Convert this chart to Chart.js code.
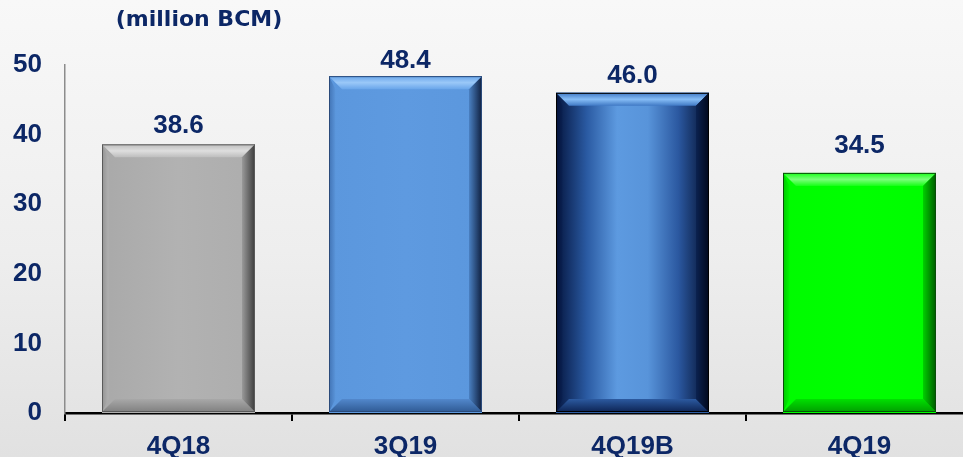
<!DOCTYPE html>
<html>
<head>
<meta charset="utf-8">
<script src="https://cdn.jsdelivr.net/npm/chart.js@4/dist/chart.umd.min.js"></script>
<style>
  html, body { margin: 0; padding: 0; width: 963px; height: 457px; overflow: hidden; }
  body { background: linear-gradient(180deg, #f8f8f8 0%, #eeeeee 55%, #e1e1e1 100%); }
  #wrap { position: absolute; left: 0; top: 0; width: 980px; height: 457px; }
</style>
</head>
<body>
<div id="wrap"><canvas id="c" width="980" height="457"></canvas></div>
<script>
// Quarterly volume, million BCM
const categories = ['4Q18', '3Q19', '4Q19B', '4Q19'];
const volumes = [38.6, 48.4, 46.0, 34.5];
const yTicks = [0, 10, 20, 30, 40, 50];

const NAVY = '#0c2766';
const LABEL_FONT = { family: '"Liberation Sans", Arial, sans-serif', size: 26, weight: 'bold' };

// Bevelled bar looks: body fill, edge shades and outline
const barLooks = [
  { base: '#b0b0b0', body: ['#a9a9a9', '#b2b2b2', '#adadad'], top: ['#dedede', '#bdbdbd'], right: ['#9a9a9a', '#3c3c3c'], bottom: ['#a8a8a8', '#808080'], left: ['#b0b0b0', '#939393'], line: '#5a5a5a' },
  { base: '#5d99df', body: ['#5b97dd', '#5e9ae0', '#5b97dd'], top: ['#9ac8f8', '#6aa6ea'], right: ['#4a80c2', '#0f1f3f'], bottom: ['#5288cc', '#2f5a94'], left: ['#5a95da', '#4173b4'], line: '#2a4a7a' },
  { base: '#2f5fa6', body: ['#051640', '#2a5aa2', '#5d9ae0', '#5894da', '#2b58a0', '#030f2c'], top: ['#86bdf6', '#3f78c4'], right: ['#0b2250', '#01081c'], bottom: ['#2c5aa0', '#0d2454'], left: ['#0a2050', '#04123a'], line: '#000000' },
  { base: '#00ff00', body: ['#00fb00', '#00ff00', '#00fc00'], top: ['#7aff7a', '#18ff18'], right: ['#00d000', '#005a00'], bottom: ['#00e000', '#00a000'], left: ['#00f400', '#00c800'], line: '#0b4d0b' }
];

// Distance from bar top to the centre of its value label
const valueLabelGap = [19, 15, 17, 27];

function linGrad(ctx, x0, y0, x1, y1, stops) {
  const g = ctx.createLinearGradient(x0, y0, x1, y1);
  stops.forEach((c, i) => g.addColorStop(stops.length === 1 ? 0 : i / (stops.length - 1), c));
  return g;
}

function poly(ctx, pts, fill) {
  ctx.beginPath();
  ctx.moveTo(pts[0][0], pts[0][1]);
  for (let i = 1; i < pts.length; i++) ctx.lineTo(pts[i][0], pts[i][1]);
  ctx.closePath();
  ctx.fillStyle = fill;
  ctx.fill();
}

const bevelBars = {
  id: 'bevelBars',
  afterDatasetsDraw(chart) {
    const ctx = chart.ctx;
    const meta = chart.getDatasetMeta(0);
    meta.data.forEach((bar, i) => {
      const p = bar.getProps(['x', 'y', 'width', 'base'], true);
      const L = p.x - p.width / 2, R = p.x + p.width / 2;
      const T = Math.min(p.y, p.base), B = Math.max(p.y, p.base) - 1;
      const look = barLooks[i];
      const b = 13;
      ctx.save();
      // body
      ctx.fillStyle = linGrad(ctx, L, 0, R, 0, look.body);
      ctx.fillRect(L, T, R - L, B - T);
      // bevel edges
      poly(ctx, [[L, T], [R, T], [R - b, T + b], [L + b, T + b]], linGrad(ctx, 0, T, 0, T + b, [look.top[1], look.top[0], look.top[1]]));
      poly(ctx, [[L, B], [R, B], [R - b, B - b], [L + b, B - b]], linGrad(ctx, 0, B - b, 0, B, look.bottom));
      poly(ctx, [[L, T], [L + b * 0.5, T + b], [L + b * 0.5, B - b], [L, B]], linGrad(ctx, L + b * 0.5, 0, L, 0, look.left));
      poly(ctx, [[R, T], [R, B], [R - b, B - b], [R - b, T + b]], linGrad(ctx, R - b, 0, R, 0, look.right));
      // outline
      ctx.strokeStyle = look.line;
      ctx.lineWidth = 1;
      ctx.strokeRect(L + 0.5, T + 0.5, R - L - 1, B - T - 1);
      ctx.restore();
    });
  }
};

const valueLabels = {
  id: 'valueLabels',
  afterDatasetsDraw(chart) {
    const ctx = chart.ctx;
    const meta = chart.getDatasetMeta(0);
    ctx.save();
    ctx.font = `${LABEL_FONT.weight} ${LABEL_FONT.size}px ${LABEL_FONT.family}`;
    ctx.fillStyle = NAVY;
    ctx.textAlign = 'center';
    ctx.textBaseline = 'middle';
    meta.data.forEach((bar, i) => {
      const p = bar.getProps(['x', 'y'], true);
      ctx.fillText(volumes[i].toFixed(1), p.x, p.y - valueLabelGap[i]);
    });
    ctx.restore();
  }
};

const unitCaption = {
  id: 'unitCaption',
  afterDraw(chart) {
    const ctx = chart.ctx;
    ctx.save();
    ctx.font = 'bold 22px "DejaVu Sans", Verdana, sans-serif';
    ctx.fillStyle = NAVY;
    ctx.textAlign = 'center';
    ctx.textBaseline = 'middle';
    ctx.fillText('(million BCM)', 199, 20);
    ctx.restore();
  }
};

new Chart(document.getElementById('c'), {
  type: 'bar',
  data: {
    labels: categories,
    datasets: [{
      data: volumes,
      backgroundColor: barLooks.map(l => l.base),
      borderWidth: 0,
      categoryPercentage: 1,
      barPercentage: 0.674
    }]
  },
  options: {
    responsive: false,
    animation: false,
    devicePixelRatio: 1,
    layout: { padding: { top: 65, right: 7, bottom: 0, left: 0 } },
    plugins: { legend: { display: false }, tooltip: { enabled: false }, title: { display: false } },
    scales: {
      x: {
        afterFit(scale) { scale.height = 44; },
        grid: { display: true, drawOnChartArea: false, drawTicks: true, tickLength: 8, color: '#000000', lineWidth: 2, offset: true },
        border: { display: true, color: '#000000', width: 2.5 },
        ticks: { color: NAVY, font: LABEL_FONT, padding: 10, maxRotation: 0 }
      },
      y: {
        min: 0,
        max: 50,
        afterFit(scale) { scale.width = 65; },
        afterBuildTicks(scale) { scale.ticks = yTicks.map(v => ({ value: v })); },
        grid: { display: false, drawTicks: false, tickLength: 0 },
        border: { display: true, color: '#8c8c8c', width: 1.5 },
        ticks: { color: NAVY, font: LABEL_FONT, padding: 23 }
      }
    }
  },
  plugins: [bevelBars, valueLabels, unitCaption]
});
</script>
</body>
</html>
